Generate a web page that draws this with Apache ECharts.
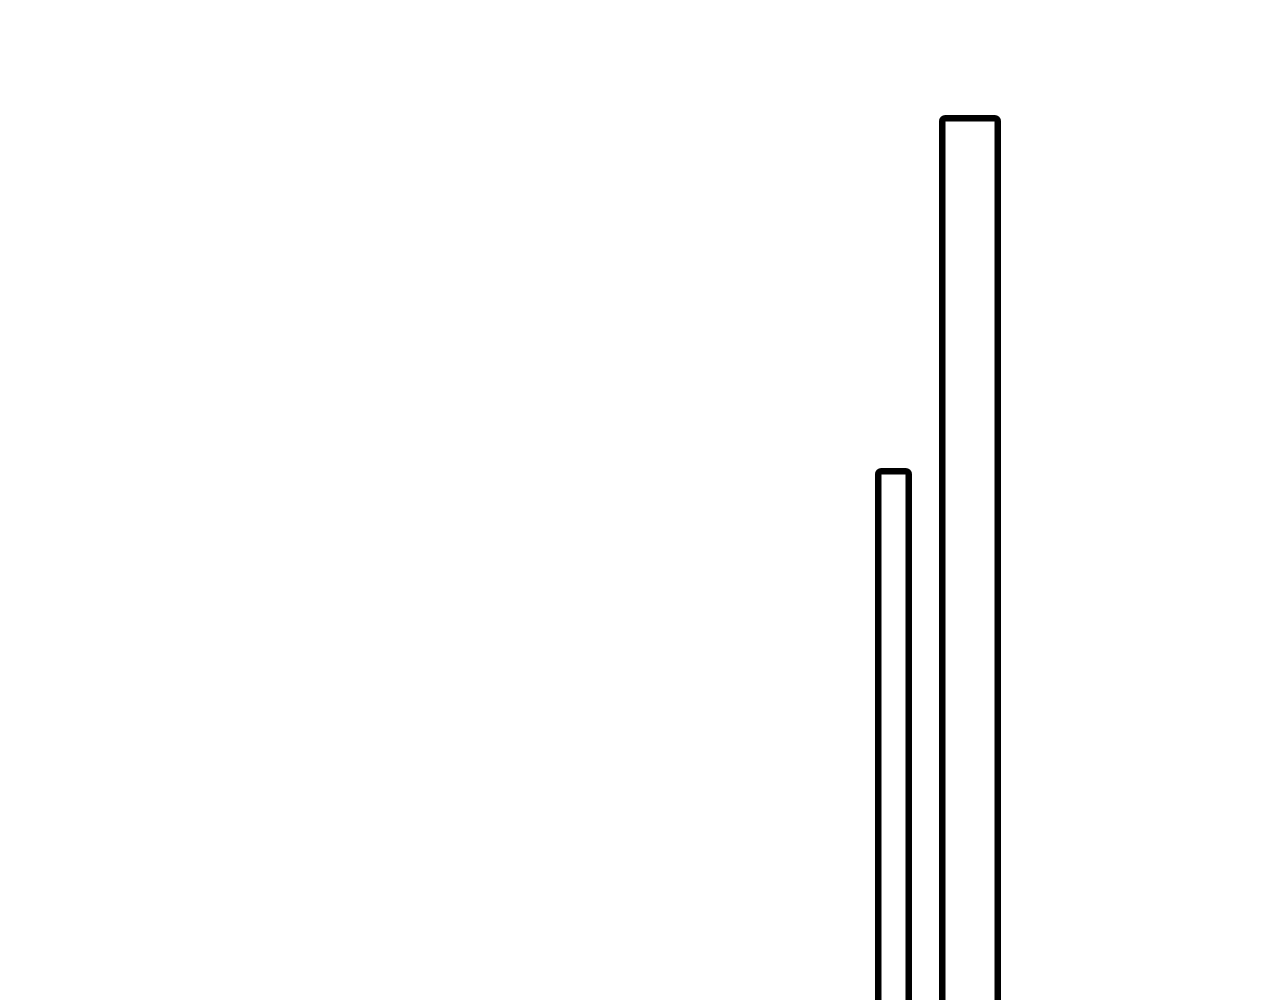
<!DOCTYPE html>
<html>
<head>
<meta charset="utf-8">
<script src="https://cdn.jsdelivr.net/npm/echarts@6/dist/echarts.min.js"></script>
<style>
  html, body { margin: 0; padding: 0; background: #ffffff; }
  #main { width: 1280px; height: 1000px; }
</style>
</head>
<body>
<div id="main"></div>
<script>
// only the top part of two bars is visible, no labels or axes
const categories = [''];
const narrowValues = [63.0];
const wideValues = [98.3];

const chart = echarts.init(document.getElementById('main'));

var option = {
  backgroundColor: '#ffffff',
  animation: false,
  grid: {
    left: 596,
    right: 0,
    top: -2,
    bottom: -98,
    outerBoundsMode: 'none',
    containLabel: false
  },
  xAxis: {
    type: 'category',
    data: categories,
    show: false
  },
  yAxis: {
    type: 'value',
    min: 0,
    max: 110,
    show: false
  },
  series: [{
    name: 'narrow',
    type: 'bar',
    data: narrowValues,
    barWidth: 37,
    barGap: '73%',
    itemStyle: {
      color: '#ffffff',
      borderColor: '#000000',
      borderWidth: 6.5,
      borderRadius: 3
    }
  }, {
    name: 'wide',
    type: 'bar',
    data: wideValues,
    barWidth: 62,
    itemStyle: {
      color: '#ffffff',
      borderColor: '#000000',
      borderWidth: 6.5,
      borderRadius: 3
    }
  }]
};

chart.setOption(option);
</script>
</body>
</html>
